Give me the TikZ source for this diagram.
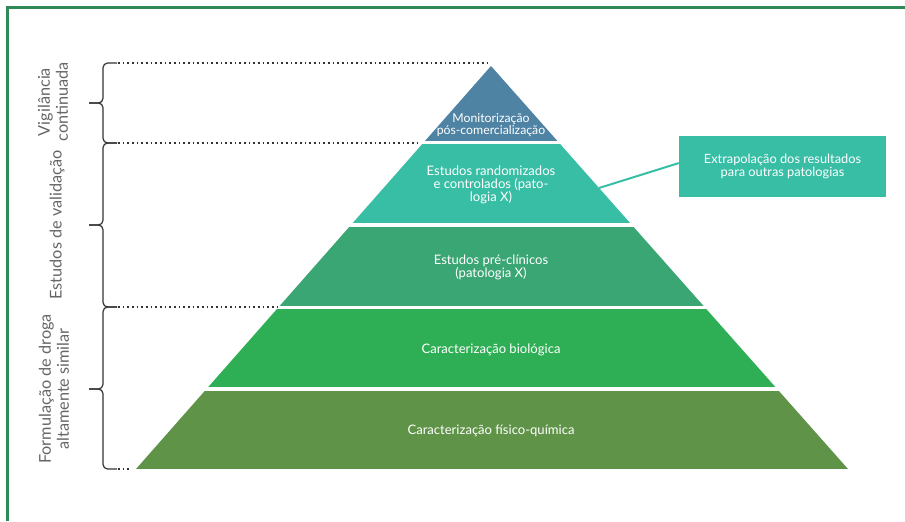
\documentclass[tikz,border=0pt]{standalone}
\usepackage{fontspec}
\setmainfont{Lato}
\usepackage{tikz}
\usetikzlibrary{positioning}
\definecolor{framegreen}{HTML}{2E8B57}
\definecolor{monit}{HTML}{4E83A3}
\definecolor{random}{HTML}{38BEA5}
\definecolor{precli}{HTML}{3AA674}
\definecolor{biolog}{HTML}{2FAF55}
\definecolor{fisqui}{HTML}{5F9348}
\definecolor{sidegray}{HTML}{666666}
\definecolor{bracegray}{HTML}{333333}
\tikzset{layertext/.style={text=white,font=\fontsize{9.8}{9.6}\selectfont,align=center}}
\tikzset{sidetext/.style={text=sidegray,font=\fontsize{12.2}{13.5}\selectfont,align=center,rotate=90}}
\tikzset{bracket/.style={draw=bracegray,line width=0.9pt,rounded corners=3.5pt}}
\tikzset{guide/.style={draw=bracegray,line width=1.3pt,dash pattern=on 1.2pt off 2.3pt}}
\tikzset{callout/.style={fill=random,text=white,font=\fontsize{9.6}{9.8}\selectfont,align=center,
    minimum width=155pt,minimum height=46pt,inner sep=0pt}}

\begin{document}
\begin{tikzpicture}[x=0.75pt,y=-0.75pt]
      \useasboundingbox (0,0) rectangle (905,521);
      \draw[framegreen,line width=2pt] (7.5,521) -- (7.5,7.5) -- (905,7.5);

      % pyramid layers
      \begin{scope}
        \clip (491,66) -- (848,469) -- (136,469) -- cycle;
        \foreach \ytop/\ybot/\col in {66/141/monit,144/223/random,227/306/precli,309/387/biolog,391/469/fisqui}
          \fill[\col] (130,\ytop) rectangle (850,\ybot);
      \end{scope}

      \node[layertext,font=\fontsize{9.2}{9.2}\selectfont](monitor) at (491,125){Monitorização\\pós-comercialização};
      \node[layertext](randomized) at (491,185){Estudos randomizados\\e controlados (pato-\\logia X)};
      \node[layertext](preclinic) at (491,267){Estudos pré-clínicos\\(patologia X)};
      \node[layertext](biologic) at (491,350){Caracterização biológica};
      \node[layertext](physchem) at (491,431){Caracterização físico-química};

      \node[callout](extrap) at (782.5,166.5){Extrapolação dos resultados\\para outras patologias};
      \coordinate (edge) at (599,188);
      \draw[random,line width=1.5pt] (edge) -- ([yshift=2.6pt]extrap.west);

      % brackets
      \draw[bracket] (117,63) -- (103,63) -- (103,103) -- (89,103);
      \draw[bracket] (89,103) -- (103,103) -- (103,143) -- (117,143);
      \draw[bracket] (117,143) -- (103,143) -- (103,225) -- (89,225);
      \draw[bracket] (89,225) -- (103,225) -- (103,307) -- (117,307);
      \draw[bracket] (117,307) -- (103,307) -- (103,389) -- (89,389);
      \draw[bracket] (89,389) -- (103,389) -- (103,469) -- (117,469);

      \draw[guide] (118,63) -- (491,63);
      \draw[guide] (118,143) -- (421,143);
      \draw[guide] (118,307) -- (278,307);
      \draw[guide] (118,469) -- (131,469);

      \node[sidetext](vigil) at (53,102){Vigilância\\continuada};
      \node[sidetext](valid) at (57,225){Estudos de validação};
      \node[sidetext](formul) at (54,389){Formulação de droga\\altamente similar};
    \end{tikzpicture}
\end{document}
